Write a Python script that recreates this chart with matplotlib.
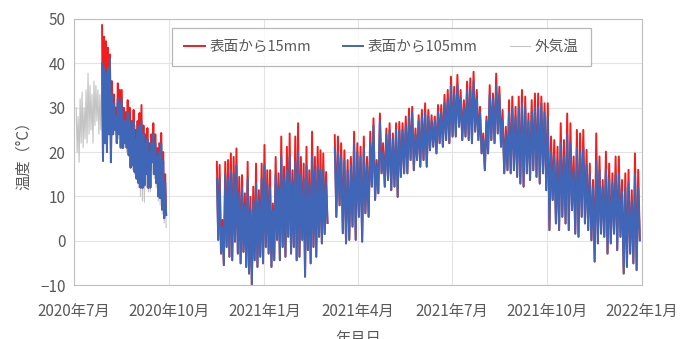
import numpy as np
import matplotlib
matplotlib.use("Agg")
import matplotlib.pyplot as plt

plt.rcParams['font.family'] = ['Noto Sans CJK JP', 'DejaVu Sans']

#<---------------- segment A: 2020-07-28 .. 2020-09-28 ---------------->
seg_a = ("2020-07-28", "2020-09-28")
red_a = [48.6, 46, 45, 43.5, 42, 36, 33, 30, 35.5, 34, 34, 30, 29, 31.7, 30, 27, 29.5, 25, 27, 28.8,
         30.6, 26, 24, 25.4, 22, 24, 26.5, 24, 20.9, 22, 24.3, 20, 15]
blue_a = [40, 39, 38, 39, 41, 33, 31, 28, 32, 31, 32, 27, 27, 29, 27, 25, 27, 23, 25, 26,
          27, 24, 22, 23, 20, 22, 24, 22, 19, 20, 22, 18, 13]
lo_a = [18, 22, 20, 24, 17.7, 24, 25, 22, 24, 21, 20.9, 22, 21, 19.3, 16.5, 17, 15.5, 14, 13, 12,
        11.9, 12.5, 15, 11.9, 12, 17.7, 15, 13, 10, 9.6, 7, 5.1, 5.8]

#<---------------- outside air: 2020-07-03 .. 2020-09-28 ---------------->
seg_g = ("2020-07-03", "2020-09-28")
gray_hi = [30, 28, 32, 33.5, 30, 34, 37.8, 35, 33, 36, 35, 34, 33, 36, 37, 36, 35, 34, 33, 32,
           31, 33, 32, 31, 30, 29, 30, 29, 27, 28, 26, 26, 27, 28, 25, 24, 24, 22, 23, 24,
           22, 20, 21, 22, 19, 14]
gray_lo = [20, 17.7, 22, 21, 23, 22, 24, 25, 22, 26, 27, 24, 25, 24, 26, 25, 24, 22, 24, 24,
           22, 23, 22, 21, 21, 20, 19, 17, 16, 15, 14, 12, 10, 9, 8.7, 12, 11, 11, 15, 14,
           12, 9, 8, 6, 4, 3]

#<---------------- segment B: 2020-11-16 .. 2021-03-03 ---------------->
seg_b = ("2020-11-16", "2021-03-03")
red_b = [17.8, 17.1, 4.7, 17.8, 18.2, 19.7, 18.9, 20.8, 14.4, 14.8, 10.7, 17.8, 9.9, 12.2, 17.4, 11.4,
         17.4, 21.6, 15.9, 15.9, 8.4, 18.9, 15.2, 23.5, 16.7, 21.2, 24.2, 15.9, 23.5, 26.5, 18.9,
         17.4, 21.2, 15.9, 24.6, 18.9, 21.2, 20.4, 19.7, 15.5]
blue_b = [14, 14, 3, 15, 14, 16, 15, 17, 11, 12, 8, 14, 7, 9, 13, 9, 14, 17, 13, 12,
          7, 15, 12, 19, 14, 16, 19, 13, 18, 20, 15, 14, 17, 13, 19, 16, 17, 16, 16, 13]
lo_b = [0.2, -2.9, -5.5, -1.4, -3.6, -4.4, -0.2, -2.9, -5.1, -2.5, -5.9, -7.4, -10, -4.4, -5.9, -3.6,
        -5.1, -1.4, -2.9, -5.9, -4.4, 0.2, -4.4, -1.4, -3.6, 0.9, -2.9, -1.4, -4.4, -3.6, 0.2,
        -8.1, -2.1, -5.1, -1.4, -3.6, 0.9, -0.6, 1.5, 4.0]

#<---------------- segment C: 2021-03-10 .. 2021-12-30 ---------------->
seg_c = ("2021-03-10", "2021-12-30")
red_c = [23.8, 23.5, 22, 20.4, 18.2, 18.9, 24.6, 22, 21.2, 23.5, 18.9, 24.6, 27.6, 18.2, 28.7, 22,
         25.3, 26.5, 24.2, 26.5, 26.8, 26.5, 28, 29.8, 30.2, 25.3, 28.3, 29.5, 31, 29.5, 28.3, 28,
         30.6, 30.6, 32.9, 34, 37,
         34.7, 37.4, 34, 31.7, 35.9, 36.6, 38.1, 34, 30.2, 24.2, 28, 35.1, 33.2, 37.7, 34.7, 29.5,
         25.7, 31.7, 32.5, 30.2, 32.5, 34, 32.5, 28.7, 31.7, 33.2, 33.2,
         32.5, 31, 31, 23.5, 22.7, 21.2, 26.5, 22.7, 28.7, 26.5, 19, 25, 24.2, 25, 20.5, 17.4,
         13.7, 24.2, 19, 13.7, 20.1, 17.4, 15.2, 19, 19, 13.7, 15.2, 16, 11.4, 19.7, 16]
blue_c = [21, 20, 19, 18, 16, 17, 22, 20, 19, 21, 17, 22, 26, 17, 27, 20, 24, 25, 23, 25,
          25, 25, 26, 28, 29, 24, 27, 28, 29, 28, 27, 27, 29, 29, 31, 32, 35,
          33, 35, 32, 30, 34, 34, 36, 32, 29, 23, 27, 33, 32, 35, 33, 27, 24, 29, 30, 28,
          30, 31, 30, 27, 29, 30, 30,
          31, 29, 28, 20, 19, 18, 22, 19, 24, 22, 16, 21, 20, 21, 17, 15, 12, 18, 16, 12,
          16, 14, 13, 15, 15, 11, 12, 13, 9, 15, 12]
lo_c = [5.4, 8, 1.7, -0.6, 0.2, 3.2, 0.2, 5.4, -0.2, 6.2, 5.4, 12.2, 9.2, 10.7, 15.2, 12.2,
        13.7, 11.4, 12.2, 9.9, 14.4, 15.2, 15.2, 18.2, 15.9, 18.2, 16.7, 18.2, 16.7, 20.4, 21.2,
        19.7, 22, 21.2, 22.7, 22, 23.5,
        23.5, 25.7, 22.7, 23.5, 22.7, 22, 24.6, 22.7, 19.7, 15.9, 19.7, 22.7, 22, 24.2, 21.2,
        15.2, 15.9, 15.2, 15.9, 14.4, 12.9, 12.2, 15.2, 13.7, 15.9, 14.4, 12.9,
        15.2, 11.4, 2.4, 9.2, 3.9, 2.4, 5.4, 3.9, 2.4, 6.9, 1.6, 0.9, 5.4, 3.9, 2.4, 0.1,
        -4.7, -0.6, 1.6, 0.9, -2.9, -0.6, 1.6, -2.1, 0.9, -7.4, -5.9, -2.9, -5.1, -6.6, 0.1]

x_ticks = ["2020-07-01", "2020-10-01", "2021-01-01", "2021-04-01", "2021-07-01", "2021-10-01", "2022-01-01"]
x_tick_labels = ["2020年7月", "2020年10月", "2021年1月", "2021年4月", "2021年7月", "2021年10月", "2022年1月"]


def zigzag(seg, hi, lo):
    # peak / trough alternating between the segment's first and last day
    vals = np.column_stack([hi, lo]).ravel()
    t0 = np.datetime64(seg[0], "h").astype(float)
    t1 = np.datetime64(seg[1], "h").astype(float)
    t = np.linspace(t0, t1, len(vals)).astype("int64").astype("datetime64[h]")
    return t, vals


c_red = "#F01E1E"; c_blue = "#3F66B7"; c_gray = "#C4C4C4"; c_txt = "#595959"
segs = [(seg_a, red_a, blue_a, lo_a), (seg_b, red_b, blue_b, lo_b), (seg_c, red_c, blue_c, lo_c)]

fig = plt.figure(figsize=(6.8, 3.39), dpi=100)
ax = fig.add_axes([0.109, 0.159, 0.835, 0.785])

t, v = zigzag(seg_g, gray_hi, gray_lo)
ax.plot(t, v, color=c_gray, lw=0.8, label="外気温")
for i, (seg, r, b, lo) in enumerate(segs):
    t, v = zigzag(seg, r, lo)
    ax.plot(t, v, color=c_red, lw=1.4, label="表面から15mm" if i == 0 else None)
for i, (seg, r, b, lo) in enumerate(segs):
    t, v = zigzag(seg, b, lo)
    ax.plot(t, v, color=c_blue, lw=1.4, label="表面から105mm" if i == 0 else None)

ax.set_xlim(np.datetime64(x_ticks[0]), np.datetime64(x_ticks[-1]))
ax.set_ylim(-10, 50)
ax.set_yticks(np.arange(-10, 51, 10))
ax.set_xticks([np.datetime64(d) for d in x_ticks])
ax.set_xticklabels(x_tick_labels)
ax.tick_params(length=0, labelsize=11, labelcolor=c_txt)
ax.tick_params(axis="x", pad=13)
ax.tick_params(axis="y", pad=6)
ax.grid(color="#E3E3E3", lw=0.8)
ax.set_axisbelow(True)
for s in ax.spines.values():
    s.set_color("#BFBFBF")
ax.set_ylabel("温度（°C）", fontsize=11, color=c_txt, labelpad=6)
ax.set_xlabel("年月日", fontsize=11, color=c_txt, labelpad=7)

h, l = ax.get_legend_handles_labels()
order = [l.index("表面から15mm"), l.index("表面から105mm"), l.index("外気温")]
leg = ax.legend([h[i] for i in order], [l[i] for i in order], loc="upper center",
                bbox_to_anchor=(0.541, 0.995), ncol=3, fontsize=10.5, frameon=True, fancybox=False,
                handlelength=1.4, handletextpad=0.3, columnspacing=2.2, borderpad=0.85)
leg.get_frame().set_edgecolor("#A6A6A6")
leg.get_frame().set_linewidth(0.9)
for txt in leg.get_texts():
    txt.set_color(c_txt)

plt.savefig("out.png", dpi=100)
